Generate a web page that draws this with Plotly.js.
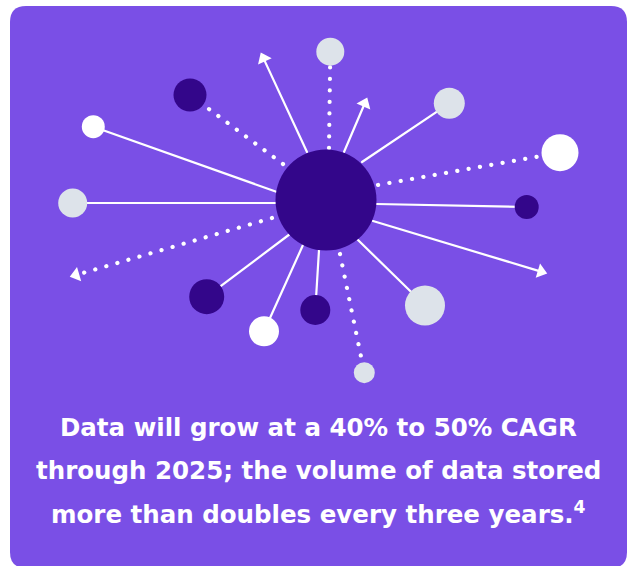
<!DOCTYPE html>
<html>
<head>
<meta charset="utf-8">
<script src="https://cdn.plot.ly/plotly-3.0.1.min.js"></script>
<style>
  html, body { margin: 0; padding: 0; background: #ffffff; }
  #chart { width: 628px; height: 566px; }
  .scatterlayer .js-line { stroke-linecap: round !important; }
</style>
</head>
<body>
<div id="chart"></div>
<script>
// ---- data (positions, in pixel units) ----
const hubX = [326];
const hubY = [200];
const hubDiameter = [101];

// satellite nodes
const nodeX    = [93.3, 72.7, 206.7, 264, 315.3, 425, 526.7, 449.3, 330.3, 190, 560, 364.3];
const nodeY    = [126.7, 203, 296.7, 331.3, 310, 305.5, 207, 103.3, 51.7, 95, 152.7, 372.7];
const nodeDiam = [23, 29, 35, 30, 30, 40, 24, 31, 28, 33, 37, 21];
const nodeTone = ['white', 'light', 'dark', 'white', 'dark', 'light', 'dark', 'light', 'light', 'dark', 'white', 'light'];
// link from hub edge to each node
const linkStartX = [277, 276, 290, 303, 319, 358, 376, 362, 329, 283, 378, 340];
const linkStartY = [192, 203, 234, 245, 250, 240, 204, 162, 148, 164, 185, 254];
const linkStyle  = ['solid', 'solid', 'solid', 'solid', 'solid', 'solid', 'solid', 'solid', 'dotted', 'dotted', 'dotted', 'dotted'];

// arrows out of the hub
const arrowStartX = [307, 344, 373, 272];
const arrowStartY = [152, 152, 221, 218];
const arrowEndX   = [263.5, 364.7, 541, 76];
const arrowEndY   = [58.4, 103.5, 271.6, 275];
const arrowStyle  = ['solid', 'solid', 'solid', 'dotted'];

const captionLines = [
  'Data will grow at a 40% to 50% CAGR',
  'through 2025; the volume of data stored',
  'more than doubles every three years.<sup>4</sup>'
];
const captionY = [427, 470, 513];

// ---- styles ----
const palette = { dark: '#33068a', light: '#dde3ea', white: '#ffffff' };
const cardColor = '#7a4fe6';
const dotDash = '0.1px,11.4px';

const traces = [];
function lineStyle(kind) {
  return kind === 'dotted'
    ? { color: '#ffffff', width: 4.2, dash: dotDash }
    : { color: '#ffffff', width: 2.2 };
}
linkStartX.forEach((sx, i) => {
  traces.push({
    type: 'scatter', mode: 'lines', hoverinfo: 'skip',
    x: [sx, nodeX[i]], y: [linkStartY[i], nodeY[i]],
    line: lineStyle(linkStyle[i])
  });
});
arrowStartX.forEach((sx, i) => {
  traces.push({
    type: 'scatter', mode: 'lines', hoverinfo: 'skip',
    x: [sx, arrowEndX[i]], y: [arrowStartY[i], arrowEndY[i]],
    line: lineStyle(arrowStyle[i])
  });
  traces.push({
    type: 'scatter', mode: 'markers', hoverinfo: 'skip',
    x: [sx, arrowEndX[i]], y: [arrowStartY[i], arrowEndY[i]],
    marker: { symbol: 'triangle-up', size: [0, 13], angleref: 'previous', color: '#ffffff', opacity: 1, line: { width: 0 } }
  });
});
traces.push({
  type: 'scatter', mode: 'markers', hoverinfo: 'skip',
  x: nodeX, y: nodeY,
  marker: { size: nodeDiam, color: nodeTone.map(t => palette[t]), line: { width: 0 }, opacity: 1 }
});
traces.push({
  type: 'scatter', mode: 'markers', hoverinfo: 'skip',
  x: hubX, y: hubY,
  marker: { size: hubDiameter, color: palette.dark, opacity: 1, line: { width: 0 } }
});

const L = 10, R = 627, T = 6, B = 568, rad = 16;
const cardPath = `M${L + rad},${T} H${R - rad} Q${R},${T} ${R},${T + rad} V${B - rad} Q${R},${B} ${R - rad},${B} H${L + rad} Q${L},${B} ${L},${B - rad} V${T + rad} Q${L},${T} ${L + rad},${T} Z`;

const layout = {
  width: 628, height: 566,
  margin: { l: 0, r: 0, t: 0, b: 0 },
  paper_bgcolor: '#ffffff', plot_bgcolor: 'rgba(0,0,0,0)',
  showlegend: false,
  xaxis: { range: [0, 628], visible: false, fixedrange: true },
  yaxis: { range: [566, 0], visible: false, fixedrange: true },
  shapes: [{ type: 'path', xref: 'x', yref: 'y', path: cardPath, fillcolor: cardColor, line: { width: 0 }, layer: 'below' }],
  annotations: captionLines.map((t, i) => ({
    x: 318, y: captionY[i], xref: 'x', yref: 'y',
    xanchor: 'center', yanchor: 'middle', showarrow: false,
    text: t,
    font: { family: '"DejaVu Sans", sans-serif', size: 24.5, color: '#ffffff', weight: 700 }
  }))
};

Plotly.newPlot('chart', traces, layout, { staticPlot: true, displayModeBar: false });
</script>
</body>
</html>
